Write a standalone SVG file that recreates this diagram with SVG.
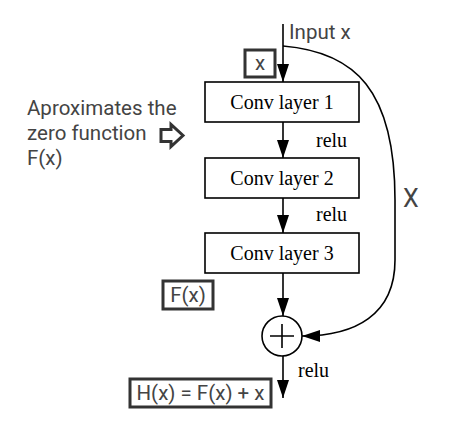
<svg xmlns="http://www.w3.org/2000/svg" width="450" height="421" viewBox="0 0 450 421">
<style>
.box{fill:#fff;stroke:#000;stroke-width:1.6}
.lbl{fill:#fff;stroke:#333;stroke-width:3}
.serif{font-family:"Liberation Serif","Times New Roman",serif;font-size:20px;fill:#000}
.sans{font-family:Roboto,"Liberation Sans",sans-serif;font-size:20.5px;fill:#444}
.ln{fill:none;stroke:#000;stroke-width:1.6}
</style>
<defs>
<marker id="ah" viewBox="0 0 18 12" refX="18" refY="6" markerWidth="18" markerHeight="12" markerUnits="userSpaceOnUse" orient="auto">
<path d="M0,0 L18,6 L0,12 Z" fill="#000"/>
</marker>
</defs>
<g id="connectors">
<path class="ln" d="M283,24 L283,82" marker-end="url(#ah)"/>
<path class="ln" d="M283,122 L283,158" marker-end="url(#ah)"/>
<path class="ln" d="M283,198 L283,233" marker-end="url(#ah)"/>
<path class="ln" d="M283,273 L283,316" marker-end="url(#ah)"/>
<path class="ln" d="M283,356 L283,398" marker-end="url(#ah)"/>
<path class="ln" d="M283,46 C355,52 395,90 395,200 L395,260 C395,315 355,336 302,336" marker-end="url(#ah)"/>
<text class="serif" x="316" y="147">relu</text>
<text class="serif" x="316" y="221">relu</text>
<text class="serif" x="298" y="377">relu</text>
<text class="sans" x="289" y="39">Input x</text>
<text class="sans" x="403" y="207" style="font-size:25px">X</text>
</g>
<g id="conv1"><rect class="box" x="205" y="82" width="154" height="40"/><text class="serif" x="282" y="109" text-anchor="middle">Conv layer 1</text></g>
<g id="conv2"><rect class="box" x="205" y="158" width="154" height="40"/><text class="serif" x="282" y="185" text-anchor="middle">Conv layer 2</text></g>
<g id="conv3"><rect class="box" x="205" y="233" width="154" height="40"/><text class="serif" x="282" y="260" text-anchor="middle">Conv layer 3</text></g>
<g id="sum"><circle cx="282" cy="336" r="20" fill="#fff" stroke="#000" stroke-width="1.6"/><path d="M270,336 H294 M282,324 V348" stroke="#000" stroke-width="1.6"/></g>
<g id="xlabel"><rect class="lbl" x="245" y="50" width="30" height="27"/><text class="sans" x="260" y="70" text-anchor="middle">x</text></g>
<g id="fxlabel"><rect class="lbl" x="163" y="281" width="50" height="28"/><text class="sans" x="188" y="302" text-anchor="middle">F(x)</text></g>
<g id="hxlabel"><rect class="lbl" x="130" y="379" width="141" height="28"/><text class="sans" x="200.5" y="400" text-anchor="middle">H(x) = F(x) + x</text></g>
<g id="note">
<text class="sans" x="27" y="115">Aproximates the</text>
<text class="sans" x="27" y="140">zero function</text>
<text class="sans" x="27" y="165">F(x)</text>
<path d="M161,129.5 H171 V124.5 L183,135.5 L171,146.5 V141.5 H161 Z" fill="#fff" stroke="#333" stroke-width="3" stroke-linejoin="miter"/>
</g>
</svg>
